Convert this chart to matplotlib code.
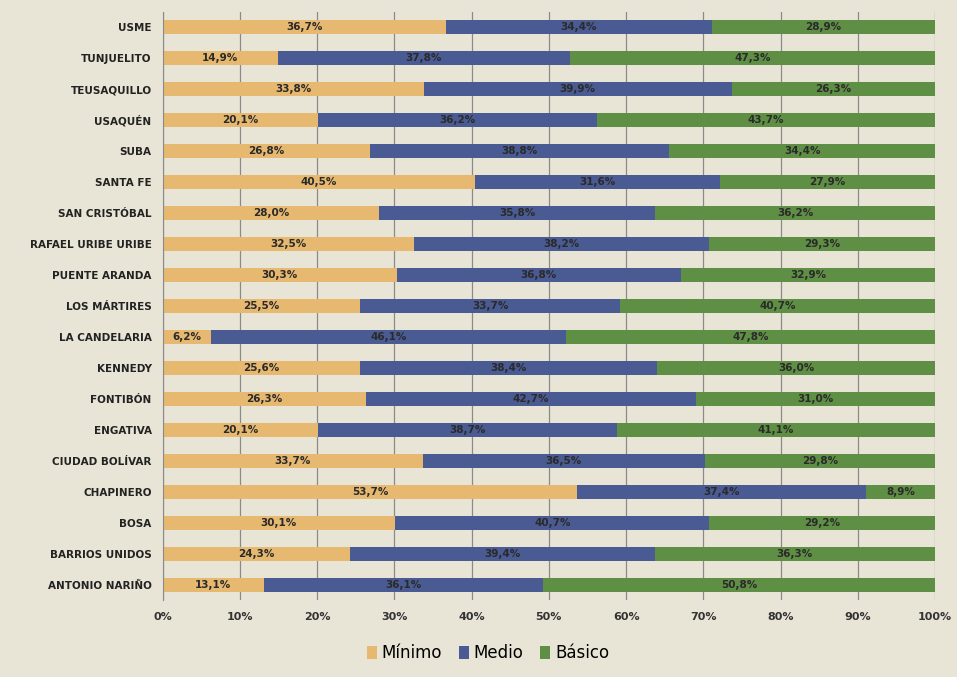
import matplotlib
matplotlib.use("Agg")
import matplotlib.pyplot as plt
import numpy as np

categories = ["USME", "TUNJUELITO", "TEUSAQUILLO", "USAQUÉN", "SUBA", "SANTA FE",
              "SAN CRISTÓBAL", "RAFAEL URIBE URIBE", "PUENTE ARANDA", "LOS MÁRTIRES",
              "LA CANDELARIA", "KENNEDY", "FONTIBÓN", "ENGATIVA", "CIUDAD BOLÍVAR",
              "CHAPINERO", "BOSA", "BARRIOS UNIDOS", "ANTONIO NARIÑO"]
minimo = [36.7, 14.9, 33.8, 20.1, 26.8, 40.5, 28.0, 32.5, 30.3, 25.5,
          6.2, 25.6, 26.3, 20.1, 33.7, 53.7, 30.1, 24.3, 13.1]
medio = [34.4, 37.8, 39.9, 36.2, 38.8, 31.6, 35.8, 38.2, 36.8, 33.7,
         46.1, 38.4, 42.7, 38.7, 36.5, 37.4, 40.7, 39.4, 36.1]
basico = [28.9, 47.3, 26.3, 43.7, 34.4, 27.9, 36.2, 29.3, 32.9, 40.7,
          47.8, 36.0, 31.0, 41.1, 29.8, 8.9, 29.2, 36.3, 50.8]
series_names = ["Mínimo", "Medio", "Básico"]
colors = ["#e6b870", "#4a5a92", "#5f8f45"]
xticks = [0, 10, 20, 30, 40, 50, 60, 70, 80, 90, 100]
xticklabels = [f"{t}%" for t in xticks]

bg = "#e9e5d6"
fig = plt.figure(figsize=(9.57, 6.77), dpi=100, facecolor=bg)
ax = fig.add_axes([0.170, 0.113, 0.807, 0.870], facecolor=bg)

data = np.array([minimo, medio, basico])
totals = data.sum(axis=0)
pct = data / totals * 100
y = np.arange(len(categories))
left = np.zeros(len(categories))
for i, name in enumerate(series_names):
    ax.barh(y, pct[i], left=left, height=0.47, color=colors[i], label=name, zorder=2)
    for j in range(len(categories)):
        ax.text(left[j] + pct[i][j] / 2, y[j], f"{data[i][j]:.1f}%".replace(".", ","),
                ha="center", va="center", fontsize=7.5, fontweight="bold",
                color="#2a2a2a", zorder=3)
    left = left + pct[i]

ax.set_xlim(0, 100)
ax.set_ylim(len(categories) - 0.5, -0.5)
ax.set_yticks(y)
ax.set_yticklabels(categories, fontsize=7.5, color="#222222", fontweight="semibold")
ax.set_xticks(xticks)
ax.set_xticklabels(xticklabels, fontsize=8, fontweight="bold", color="#333333")
ax.tick_params(axis="both", length=0, pad=8)
ax.grid(axis="x", color="#8a8a8a", linewidth=0.9, zorder=0)
for s in ["top", "right", "bottom"]:
    ax.spines[s].set_visible(False)
ax.spines["left"].set_color("#8a8a8a")

fig.legend(loc="lower center", bbox_to_anchor=(0.51, 0.0), ncol=3, frameon=False,
           fontsize=12, handlelength=0.6, handleheight=0.8, handletextpad=0.3,
           columnspacing=1.0)

fig.savefig("out.png", dpi=100, facecolor=bg)
